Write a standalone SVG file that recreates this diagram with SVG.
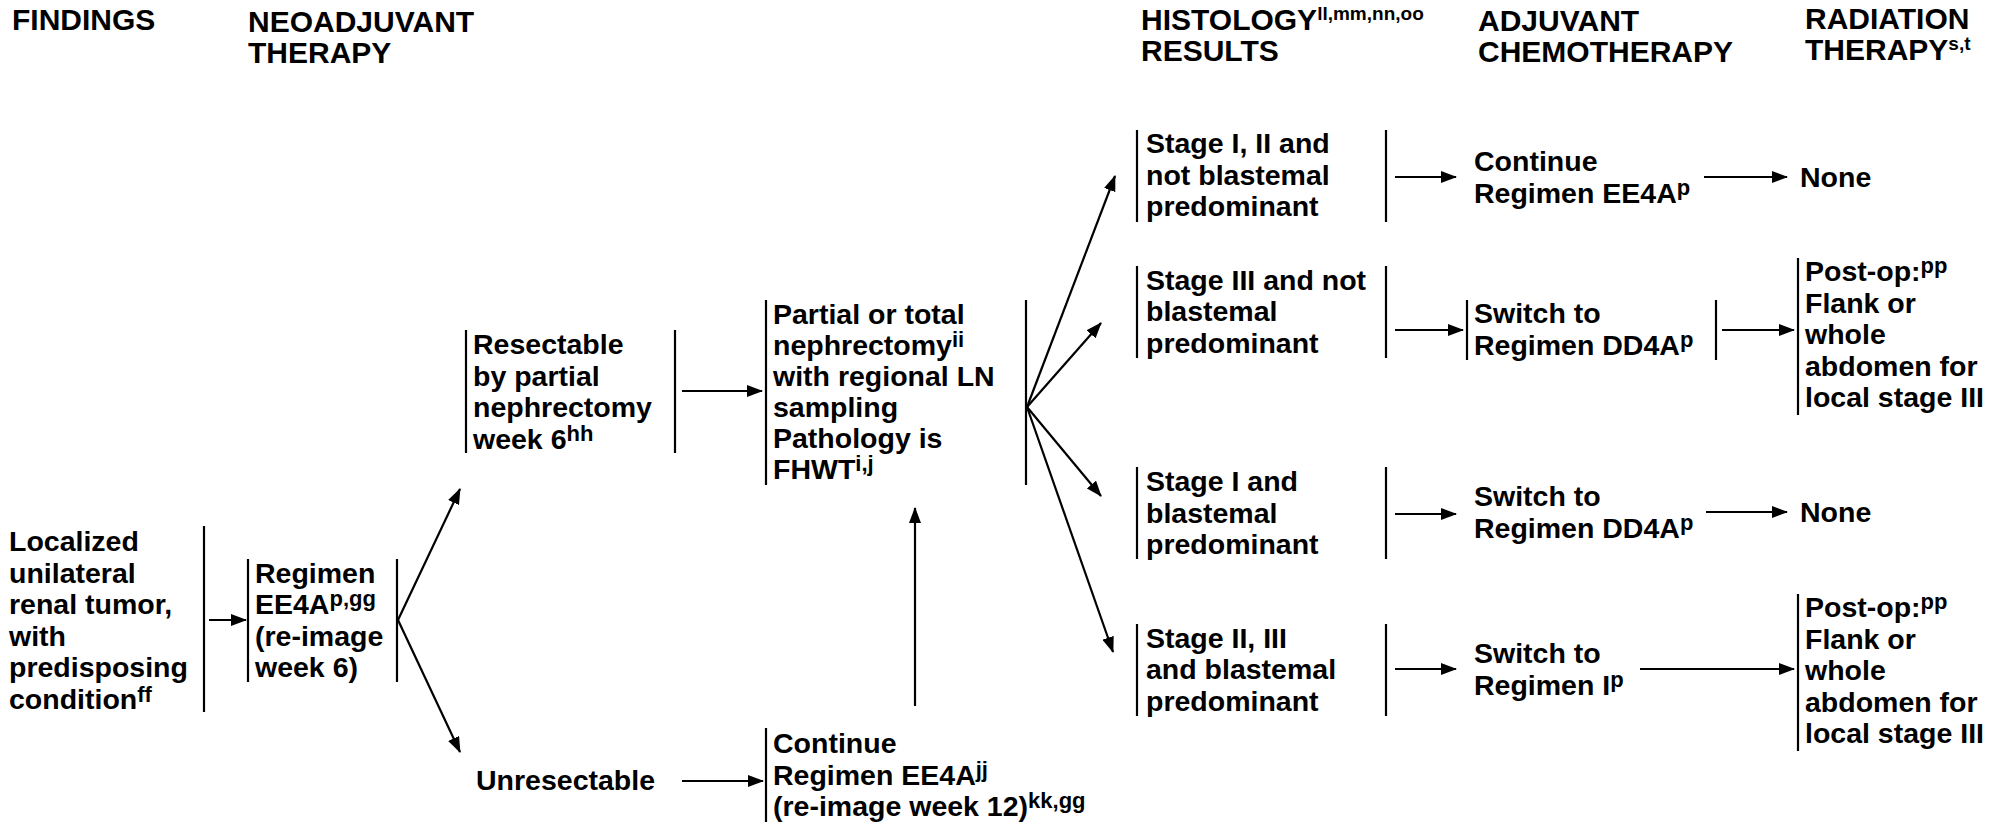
<svg xmlns="http://www.w3.org/2000/svg" width="2003" height="826" viewBox="0 0 2003 826">
<style>
text{font-family:"Liberation Sans",Arial,Helvetica,sans-serif;font-weight:bold;fill:#000}
.h{font-size:30px}
.t{font-size:28.5px}
.s{font-size:22px}
.hs{font-size:19px}
.bar{stroke:#000;stroke-width:2.2;fill:none}
.c{stroke:#000;stroke-width:2.2;fill:none;marker-end:url(#ah)}
</style>
<defs>
<marker id="ah" markerUnits="userSpaceOnUse" markerWidth="16" markerHeight="12" refX="15" refY="6" orient="auto">
<path d="M0,0 L16,6 L0,12 z" fill="#000"/>
</marker>
</defs>
<rect width="2003" height="826" fill="#fff"/>
<g id="headers">
<text class="h" x="12" y="30">FINDINGS</text>
<text class="h" x="248" y="32">NEOADJUVANT</text>
<text class="h" x="248" y="63">THERAPY</text>
<text class="h" x="1141" y="30">HISTOLOGY<tspan class="hs" dy="-10">ll,mm,nn,oo</tspan></text>
<text class="h" x="1141" y="61">RESULTS</text>
<text class="h" x="1478" y="31">ADJUVANT</text>
<text class="h" x="1478" y="62">CHEMOTHERAPY</text>
<text class="h" x="1805" y="29">RADIATION</text>
<text class="h" x="1805" y="60">THERAPY<tspan class="hs" dy="-10">s,t</tspan></text>
</g>
<g id="connectors">
<line class="c" x1="209" y1="620" x2="246" y2="620"/>
<line class="c" x1="398" y1="620" x2="460" y2="489"/>
<line class="c" x1="398" y1="620" x2="460" y2="752"/>
<line class="c" x1="682" y1="391" x2="762" y2="391"/>
<line class="c" x1="682" y1="781" x2="763" y2="781"/>
<line class="c" x1="915" y1="706" x2="915" y2="508"/>
<line class="c" x1="1027" y1="407" x2="1115" y2="176"/>
<line class="c" x1="1027" y1="407" x2="1101" y2="323"/>
<line class="c" x1="1027" y1="407" x2="1101" y2="496"/>
<line class="c" x1="1027" y1="407" x2="1113" y2="652"/>
<line class="c" x1="1395" y1="177" x2="1456" y2="177"/>
<line class="c" x1="1704" y1="177" x2="1787" y2="177"/>
<line class="c" x1="1395" y1="330" x2="1463" y2="330"/>
<line class="c" x1="1722" y1="330" x2="1794" y2="330"/>
<line class="c" x1="1395" y1="514" x2="1456" y2="514"/>
<line class="c" x1="1706" y1="512" x2="1787" y2="512"/>
<line class="c" x1="1395" y1="669" x2="1456" y2="669"/>
<line class="c" x1="1640" y1="669" x2="1794" y2="669"/>
</g>
<g id="localized">
<text class="t"><tspan x="9" y="551">Localized</tspan><tspan x="9" y="582.5">unilateral</tspan><tspan x="9" y="614">renal tumor,</tspan><tspan x="9" y="645.5">with</tspan><tspan x="9" y="677">predisposing</tspan><tspan x="9" y="708.5">condition<tspan class="s" dy="-7">ff</tspan></tspan></text>
<line class="bar" x1="204" y1="526" x2="204" y2="712"/>
</g>
<g id="regimen-ee4a">
<line class="bar" x1="248" y1="559" x2="248" y2="682"/>
<text class="t"><tspan x="255" y="582.5">Regimen</tspan><tspan x="255" y="614">EE4A<tspan class="s" dy="-8">p,gg</tspan></tspan><tspan x="255" y="645.5">(re-image</tspan><tspan x="255" y="677">week 6)</tspan></text>
<line class="bar" x1="397" y1="559" x2="397" y2="682"/>
</g>
<g id="resectable">
<line class="bar" x1="466" y1="330" x2="466" y2="453"/>
<text class="t"><tspan x="473" y="354">Resectable</tspan><tspan x="473" y="385.5">by partial</tspan><tspan x="473" y="417">nephrectomy</tspan><tspan x="473" y="448.5">week 6<tspan class="s" dy="-8">hh</tspan></tspan></text>
<line class="bar" x1="675" y1="330" x2="675" y2="453"/>
</g>
<g id="nephrectomy">
<line class="bar" x1="766" y1="300" x2="766" y2="485"/>
<text class="t"><tspan x="773" y="324">Partial or total</tspan><tspan x="773" y="355">nephrectomy<tspan class="s" dy="-8">ii</tspan></tspan><tspan x="773" y="386">with regional LN</tspan><tspan x="773" y="417">sampling</tspan><tspan x="773" y="448">Pathology is</tspan><tspan x="773" y="479">FHWT<tspan class="s" dy="-8">i,j</tspan></tspan></text>
<line class="bar" x1="1026" y1="300" x2="1026" y2="485"/>
</g>
<g id="unresectable">
<text class="t" x="476" y="790">Unresectable</text>
</g>
<g id="continue-ee4a-jj">
<line class="bar" x1="766" y1="728" x2="766" y2="822"/>
<text class="t"><tspan x="773" y="753">Continue</tspan><tspan x="773" y="784.5">Regimen EE4A<tspan class="s" dy="-8">jj</tspan></tspan><tspan x="773" y="816">(re-image week 12)<tspan class="s" dy="-8">kk,gg</tspan></tspan></text>
</g>
<g id="stage-1-2-not-blastemal">
<line class="bar" x1="1137" y1="130" x2="1137" y2="222"/>
<text class="t"><tspan x="1146" y="153">Stage I, II and</tspan><tspan x="1146" y="184.5">not blastemal</tspan><tspan x="1146" y="216">predominant</tspan></text>
<line class="bar" x1="1386" y1="130" x2="1386" y2="222"/>
</g>
<g id="continue-ee4a">
<text class="t"><tspan x="1474" y="171">Continue</tspan><tspan x="1474" y="202.5">Regimen EE4A<tspan class="s" dy="-8">p</tspan></tspan></text>
</g>
<g id="none-1">
<text class="t" x="1800" y="187">None</text>
</g>
<g id="stage-3-not-blastemal">
<line class="bar" x1="1137" y1="266" x2="1137" y2="358"/>
<text class="t"><tspan x="1146" y="289.5">Stage III and not</tspan><tspan x="1146" y="321">blastemal</tspan><tspan x="1146" y="352.5">predominant</tspan></text>
<line class="bar" x1="1386" y1="266" x2="1386" y2="358"/>
</g>
<g id="switch-dd4a-1">
<line class="bar" x1="1467" y1="300" x2="1467" y2="360"/>
<text class="t"><tspan x="1474" y="323">Switch to</tspan><tspan x="1474" y="354.5">Regimen DD4A<tspan class="s" dy="-8">p</tspan></tspan></text>
<line class="bar" x1="1716" y1="300" x2="1716" y2="360"/>
</g>
<g id="postop-1">
<line class="bar" x1="1798" y1="258" x2="1798" y2="415"/>
<text class="t"><tspan x="1805" y="281">Post-op:<tspan class="s" dy="-8">pp</tspan></tspan><tspan x="1805" y="312.5">Flank or</tspan><tspan x="1805" y="344">whole</tspan><tspan x="1805" y="375.5">abdomen for</tspan><tspan x="1805" y="407">local stage III</tspan></text>
</g>
<g id="stage-1-blastemal">
<line class="bar" x1="1137" y1="467" x2="1137" y2="559"/>
<text class="t"><tspan x="1146" y="491">Stage I and</tspan><tspan x="1146" y="522.5">blastemal</tspan><tspan x="1146" y="554">predominant</tspan></text>
<line class="bar" x1="1386" y1="467" x2="1386" y2="559"/>
</g>
<g id="switch-dd4a-2">
<text class="t"><tspan x="1474" y="506">Switch to</tspan><tspan x="1474" y="537.5">Regimen DD4A<tspan class="s" dy="-8">p</tspan></tspan></text>
</g>
<g id="none-2">
<text class="t" x="1800" y="522">None</text>
</g>
<g id="stage-2-3-blastemal">
<line class="bar" x1="1137" y1="624" x2="1137" y2="716"/>
<text class="t"><tspan x="1146" y="647.5">Stage II, III</tspan><tspan x="1146" y="679">and blastemal</tspan><tspan x="1146" y="710.5">predominant</tspan></text>
<line class="bar" x1="1386" y1="624" x2="1386" y2="716"/>
</g>
<g id="switch-regimen-i">
<text class="t"><tspan x="1474" y="663">Switch to</tspan><tspan x="1474" y="694.5">Regimen I<tspan class="s" dy="-8">p</tspan></tspan></text>
</g>
<g id="postop-2">
<line class="bar" x1="1798" y1="594" x2="1798" y2="751"/>
<text class="t"><tspan x="1805" y="617">Post-op:<tspan class="s" dy="-8">pp</tspan></tspan><tspan x="1805" y="648.5">Flank or</tspan><tspan x="1805" y="680">whole</tspan><tspan x="1805" y="711.5">abdomen for</tspan><tspan x="1805" y="743">local stage III</tspan></text>
</g>
</svg>
